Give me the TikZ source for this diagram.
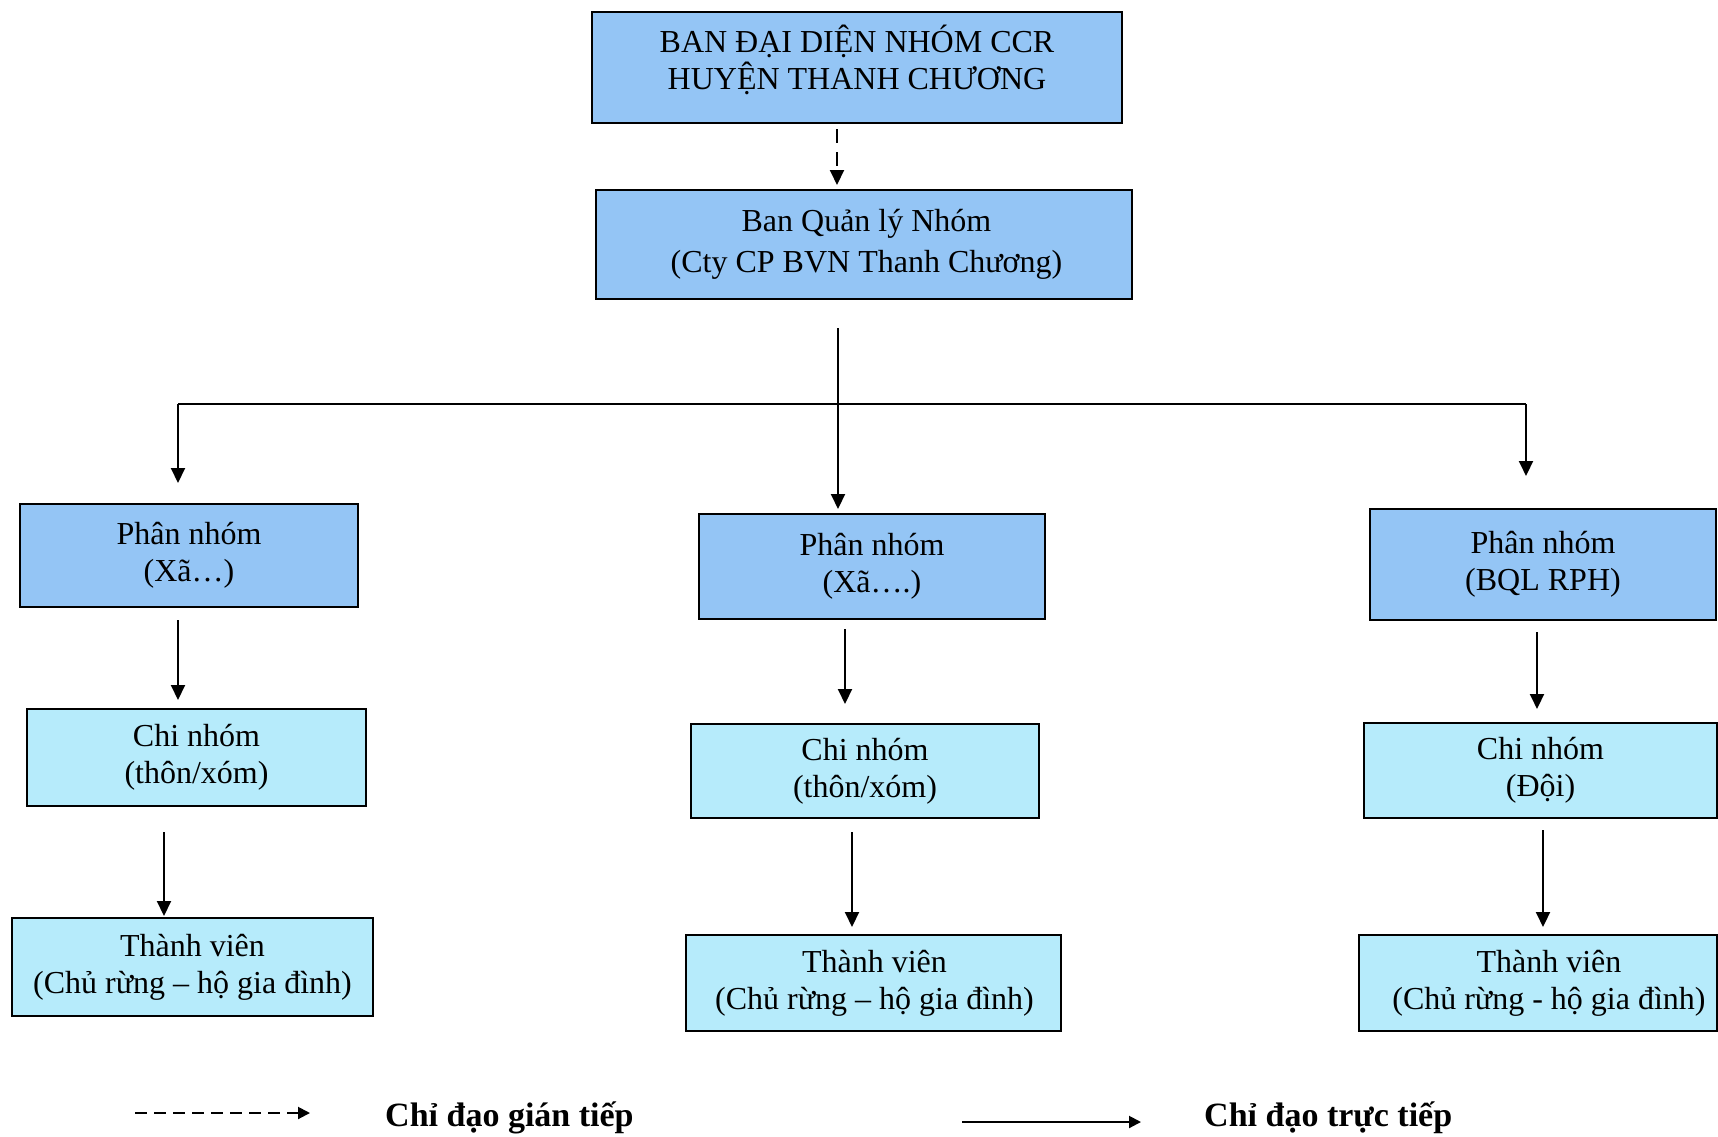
\documentclass[tikz,border=0pt]{standalone}
\usepackage{fontspec}
\setmainfont{Liberation Serif}
\usetikzlibrary{arrows.meta}
\definecolor{boxdark}{RGB}{148,197,245}
\definecolor{boxlight}{RGB}{182,235,251}
\tikzset{
  basebox/.style={draw=black, line width=2pt, inner sep=0pt, align=center,
    font=\fontsize{32}{37}\selectfont},
  darkbox/.style={basebox, fill=boxdark},
  lightbox/.style={basebox, fill=boxlight},
  arr/.style={line width=2pt, -{Triangle[width=14pt,length=15pt]}},
  dasharr/.style={arr, dash pattern=on 14pt off 9pt},
  plain/.style={line width=2pt},
  legendtext/.style={font=\bfseries\fontsize{34}{40}\selectfont, anchor=west, inner sep=0pt}
}
\begin{document}
\begin{tikzpicture}[x=1pt,y=-1pt]
\useasboundingbox (0,0) rectangle (1718,1136);
% boxes
\node[darkbox, minimum width=530pt, minimum height=111pt] (top) at (857,67.5)
  {BAN ĐẠI DIỆN NHÓM CCR\\HUYỆN THANH CHƯƠNG\\[-16pt]};
\node[darkbox, minimum width=536pt, minimum height=109pt,
  font=\fontsize{32}{41}\selectfont] (qly) at (864,244.5)
  {\hspace*{5pt}Ban Quản lý Nhóm\\\hspace*{5pt}(Cty CP BVN Thanh Chương)};
\node[darkbox, minimum width=338pt, minimum height=103pt] (pn1) at (189,555.5)
  {Phân nhóm\\(Xã…)};
\node[darkbox, minimum width=346pt, minimum height=105pt] (pn2) at (872,566.5)
  {Phân nhóm\\(Xã….)};
\node[darkbox, minimum width=346pt, minimum height=111pt] (pn3) at (1543,564.5)
  {Phân nhóm\\(BQL RPH)};
\node[lightbox, minimum width=339pt, minimum height=97pt] (cn1) at (196.5,757.5)
  {Chi nhóm\\(thôn/xóm)};
\node[lightbox, minimum width=348pt, minimum height=94pt] (cn2) at (865,771)
  {Chi nhóm\\(thôn/xóm)};
\node[lightbox, minimum width=353pt, minimum height=95pt] (cn3) at (1540.5,770.5)
  {Chi nhóm\\(Đội)};
\node[lightbox, minimum width=361pt, minimum height=98pt] (tv1) at (192.5,967)
  {Thành viên\\(Chủ rừng – hộ gia đình)};
\node[lightbox, minimum width=375pt, minimum height=96pt] (tv2) at (873.5,983)
  {\hspace*{2pt}Thành viên\\\hspace*{2pt}(Chủ rừng – hộ gia đình)};
\node[lightbox, minimum width=358pt, minimum height=96pt] (tv3) at (1538,983)
  {\hspace*{22pt}Thành viên\\\hspace*{22pt}(Chủ rừng - hộ gia đình)};
% x positions of connectors
\coordinate (xa) at (837,0);
\coordinate (xb) at (838,0);
\coordinate (hl) at (178,404);
\coordinate (hr) at (1526,404);
\coordinate (x1a) at (178,0);
\coordinate (x1b) at (164,0);
\coordinate (x2a) at (845,0);
\coordinate (x2b) at (852,0);
\coordinate (x3a) at (1537,0);
\coordinate (x3b) at (1543,0);
% connectors
\draw[dasharr, shorten <=5pt, shorten >=4pt] (top.south -| xa) -- (qly.north -| xa);
\draw[arr, shorten <=28pt, shorten >=4pt] (qly.south -| xb) -- (pn2.north -| xb);
\draw[plain] (hl) -- (hr);
\draw[arr, shorten >=20pt] (hl) -- (pn1.north -| hl);
\draw[arr, shorten >=32pt] (hr) -- (pn3.north -| hr);
\draw[arr, shorten <=12pt, shorten >=8pt] (pn1.south -| x1a) -- (cn1.north -| x1a);
\draw[arr, shorten <=25pt, shorten >=1pt] (cn1.south -| x1b) -- (tv1.north -| x1b);
\draw[arr, shorten <=9pt, shorten >=19pt] (pn2.south -| x2a) -- (cn2.north -| x2a);
\draw[arr, shorten <=13pt, shorten >=7pt] (cn2.south -| x2b) -- (tv2.north -| x2b);
\draw[arr, shorten <=11pt, shorten >=13pt] (pn3.south -| x3a) -- (cn3.north -| x3a);
\draw[arr, shorten <=11pt, shorten >=7pt] (cn3.south -| x3b) -- (tv3.north -| x3b);
% legend
\coordinate (l1s) at (135,1113);
\coordinate (l1e) at (310,1113);
\coordinate (l2s) at (962,1122);
\coordinate (l2e) at (1141,1122);
\draw[line width=2pt, dash pattern=on 12pt off 7pt, -{Triangle[width=12pt,length=12pt]}] (l1s) -- (l1e);
\draw[line width=2pt, -{Triangle[width=12pt,length=12pt]}] (l2s) -- (l2e);
\node[legendtext] (lg1) at (385,1118) {Chỉ đạo gián tiếp};
\node[legendtext] (lg2) at (1204,1118) {Chỉ đạo trực tiếp};
\end{tikzpicture}
\end{document}
